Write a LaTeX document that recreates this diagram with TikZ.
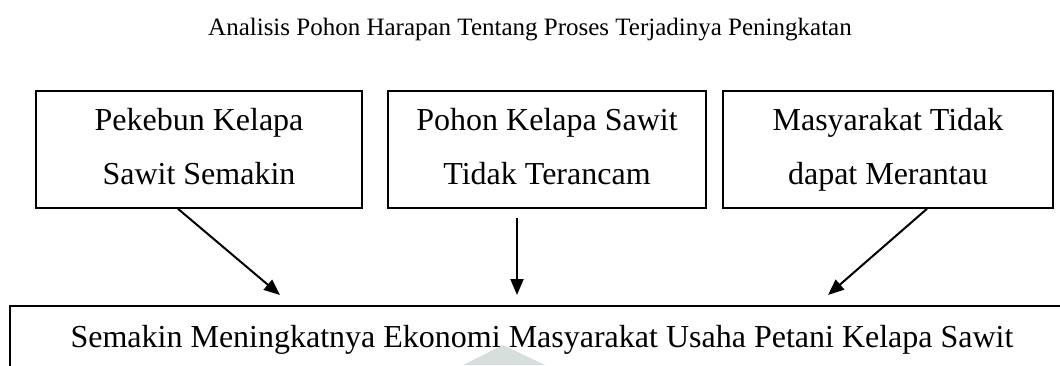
\documentclass[tikz,border=0pt]{standalone}
\usepackage{fontspec}
\setmainfont{Liberation Serif}
\usetikzlibrary{arrows.meta}
\definecolor{wmark}{HTML}{D6DFDB}
\tikzset{
  boxnode/.style={draw=black, line width=1.6pt, inner sep=0pt, align=center,
    font=\fontsize{32}{54}\selectfont},
  arrowline/.style={line width=2pt, -{Triangle[length=16pt,width=13pt]}},
  titlenode/.style={font=\fontsize{25}{30}\selectfont, inner sep=0pt, anchor=base}
}
\begin{document}
\begin{tikzpicture}[x=1pt,y=-1pt]
\useasboundingbox (0,0) rectangle (1060,365);
\clip (0,0) rectangle (1060,365);
% watermark fragment
\fill[wmark] (503,345) -- (545,365) -- (463,365) -- cycle;
% title
\node[titlenode] (title) at (530,35) {Analisis Pohon Harapan Tentang Proses Terjadinya Peningkatan};
% top boxes
\node[boxnode, minimum width=326pt, minimum height=117pt] (b1) at (199,149.5)
  {\rule{0pt}{30pt}Pekebun Kelapa\\Sawit Semakin\rule[-15pt]{0pt}{15pt}};
\node[boxnode, minimum width=318pt, minimum height=117pt] (b2) at (547,149.5)
  {\rule{0pt}{30pt}Pohon Kelapa Sawit\\Tidak Terancam\rule[-15pt]{0pt}{15pt}};
\node[boxnode, minimum width=330pt, minimum height=117pt] (b3) at (888,149.5)
  {\rule{0pt}{30pt}Masyarakat Tidak\\dapat Merantau\rule[-15pt]{0pt}{15pt}};
% bottom box
\node[boxnode, minimum width=1064pt, minimum height=67pt, text height=22pt, text depth=7pt] (bot) at (542,339.5)
  {Semakin Meningkatnya Ekonomi Masyarakat Usaha Petani Kelapa Sawit};
% connector ends
\coordinate (s1) at ([xshift=-21pt]b1.south);
\coordinate (s2) at ([xshift=-30pt,yshift=-9pt]b2.south);
\coordinate (s3) at ([xshift=39pt]b3.south);
\coordinate (t1) at (280,295);
\coordinate (t2) at (517,295);
\coordinate (t3) at (828,295);
\draw[arrowline] (s1) -- (t1);
\draw[arrowline] (s2) -- (t2);
\draw[arrowline] (s3) -- (t3);
\end{tikzpicture}
\end{document}
